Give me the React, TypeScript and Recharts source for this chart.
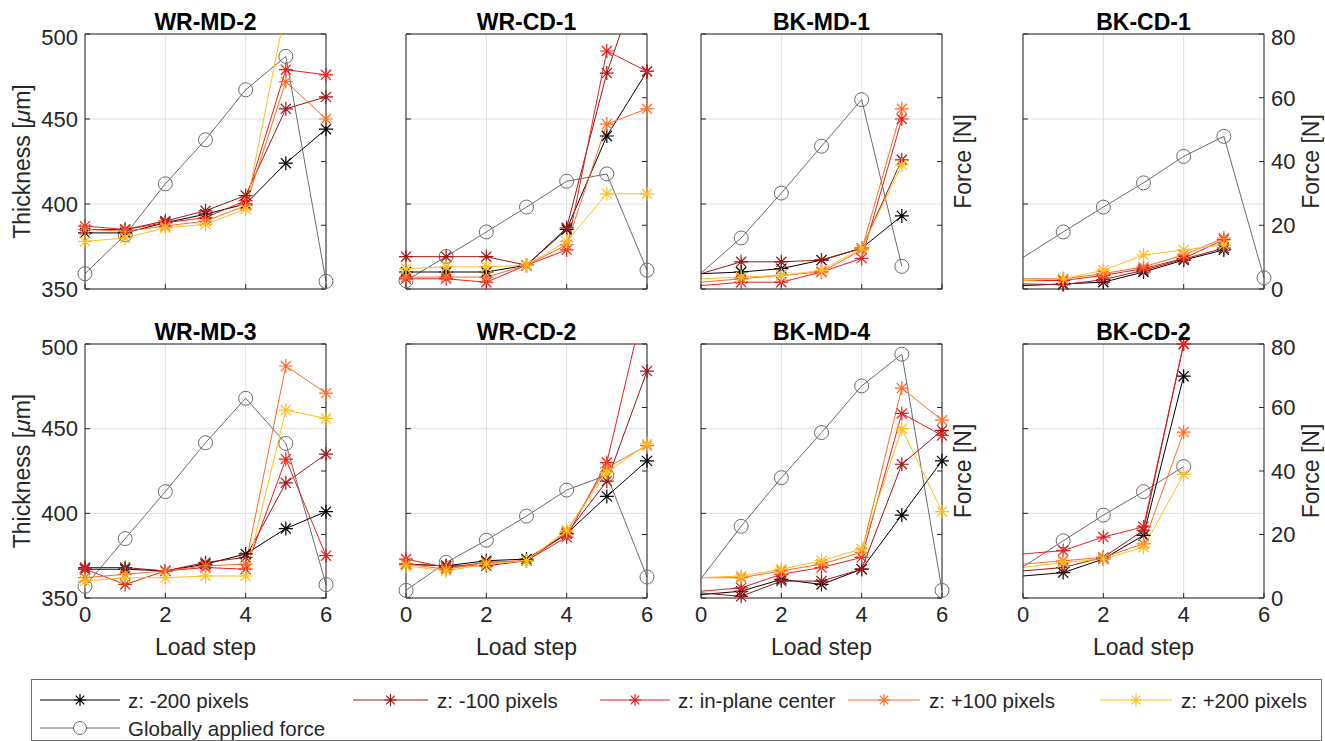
import React from 'react';
import { LineChart, Line, XAxis, YAxis, CartesianGrid, ReferenceLine } from 'recharts';

// load steps and ticks
const steps = [0, 1, 2, 3, 4, 5, 6];
const xTicks = [0, 2, 4, 6];
const thicknessTicks = [350, 400, 450, 500];
const forceTicks = [0, 20, 40, 60, 80];

// WR-MD-2
const wrMd2_m200 = [383, 383, 389, 394, 400, 424, 444];
const wrMd2_m100 = [385, 385, 390, 396, 405, 456, 463];
const wrMd2_c0 = [387, 385, 389, 392, 402, 479, 476];
const wrMd2_p100 = [385, 384, 387, 390, 399, 472, 450];
const wrMd2_p200 = [378, 380, 386, 388, 397, 515, 540];
const wrMd2_force = [4.8, 17, 33, 46.8, 62.5, 73, 2.4];

// WR-CD-1
const wrCd1_m200 = [360, 360, 360, 364, 385, 440, 478];
const wrCd1_m100 = [369, 369, 369, 364, 386, 477, 546];
const wrCd1_c0 = [356, 356, 354, 364, 373, 490, 478];
const wrCd1_p100 = [357, 357, 357, 364, 376, 447, 456];
const wrCd1_p200 = [362, 363, 363, 364, 378, 406, 406];
const wrCd1_force = [2.6, 10.2, 17.9, 25.7, 33.8, 36.1, 5.9];

// BK-MD-1
const bkMd1_m200 = [359, 360, 362, 367, 374, 393, null];
const bkMd1_m100 = [359, 366, 366, 367, 374, 426, null];
const bkMd1_c0 = [352, 354, 354, 360, 368, 450, null];
const bkMd1_p100 = [354, 356, 358, 360, 373, 456, null];
const bkMd1_p200 = [356, 357, 358, 361, 374, 423, null];
const bkMd1_force = [5, 16, 30.1, 44.8, 59.4, 7.1, null];

// BK-CD-1
const bkCd1_m200 = [352, 353, 354, 360, 367, 373, null];
const bkCd1_m100 = [353, 352.5, 355.5, 361, 367.6, 374, null];
const bkCd1_c0 = [355, 355, 358, 362, 368, 379, null];
const bkCd1_p100 = [356, 356, 359, 363, 370, 380, null];
const bkCd1_p200 = [355, 356, 361, 370, 373, 376, null];
const bkCd1_force = [9.9, 17.9, 25.7, 33.3, 41.6, 47.9, 3.5];

// WR-MD-3
const wrMd3_m200 = [367, 367, 366, 370, 376, 391, 401];
const wrMd3_m100 = [368, 368, 366, 371, 374, 418, 435];
const wrMd3_c0 = [367, 358, 366, 368, 367, 432, 375];
const wrMd3_p100 = [362, 364, 366, 369, 370, 487, 471];
const wrMd3_p200 = [360, 362, 362, 363, 363, 461, 456];
const wrMd3_force = [3.7, 18.7, 33.5, 48.9, 62.9, 48.7, 4.2];

// WR-CD-2
const wrCd2_m200 = [370, 369, 372, 373, 388, 410, 431];
const wrCd2_m100 = [370, 369, 369, 372, 388, 419, 484];
const wrCd2_c0 = [373, 368, 371, 372, 386, 430, 531];
const wrCd2_p100 = [370, 367, 371, 372, 389, 427, 440];
const wrCd2_p200 = [369, 366, 370, 372, 390, 424, 441];
const wrCd2_force = [2.4, 11.2, 18.2, 25.8, 34, 38.7, 6.6];

// BK-MD-4
const bkMd4_m200 = [352, 354, 361, 358, 367, 399, 431];
const bkMd4_m100 = [353, 351, 360, 360, 367, 429, 449];
const bkMd4_c0 = [354, 356, 364, 368, 374, 459, 446];
const bkMd4_p100 = [362, 362, 366, 370, 377, 474, 455];
const bkMd4_p200 = [362, 363, 367, 372, 379, 450, 401];
const bkMd4_force = [6.1, 22.6, 37.9, 52.1, 66.8, 76.8, 2.4];

// BK-CD-2
const bkCd2_m200 = [363, 365, 373, 387, 481, null, null];
const bkCd2_m100 = [366, 368, 374, 390, 500, null, null];
const bkCd2_c0 = [376, 378, 386, 392, 500, null, null];
const bkCd2_p100 = [370, 372, 374, 382, 448, null, null];
const bkCd2_p200 = [368, 371, 373, 380, 423, null, null];
const bkCd2_force = [9.8, 18, 26.1, 33.5, 41.4, null, null];

const SERIES = [
  { key: 'm200', name: 'z: -200 pixels', color: '#000000' },
  { key: 'm100', name: 'z: -100 pixels', color: '#9e1616' },
  { key: 'c0', name: 'z: in-plane center', color: '#ee1c1c' },
  { key: 'p100', name: 'z: +100 pixels', color: '#ff6a26' },
  { key: 'p200', name: 'z: +200 pixels', color: '#ffbe1a' },
];

// markersFrom: first load step that carries a marker (BK panels draw none at step 0)
const PANELS = [
  { title: 'WR-MD-2', row: 0, col: 0, markersFrom: 0, m200: wrMd2_m200, m100: wrMd2_m100, c0: wrMd2_c0, p100: wrMd2_p100, p200: wrMd2_p200, force: wrMd2_force },
  { title: 'WR-CD-1', row: 0, col: 1, markersFrom: 0, m200: wrCd1_m200, m100: wrCd1_m100, c0: wrCd1_c0, p100: wrCd1_p100, p200: wrCd1_p200, force: wrCd1_force },
  { title: 'BK-MD-1', row: 0, col: 2, markersFrom: 1, m200: bkMd1_m200, m100: bkMd1_m100, c0: bkMd1_c0, p100: bkMd1_p100, p200: bkMd1_p200, force: bkMd1_force },
  { title: 'BK-CD-1', row: 0, col: 3, markersFrom: 1, m200: bkCd1_m200, m100: bkCd1_m100, c0: bkCd1_c0, p100: bkCd1_p100, p200: bkCd1_p200, force: bkCd1_force },
  { title: 'WR-MD-3', row: 1, col: 0, markersFrom: 0, m200: wrMd3_m200, m100: wrMd3_m100, c0: wrMd3_c0, p100: wrMd3_p100, p200: wrMd3_p200, force: wrMd3_force },
  { title: 'WR-CD-2', row: 1, col: 1, markersFrom: 0, m200: wrCd2_m200, m100: wrCd2_m100, c0: wrCd2_c0, p100: wrCd2_p100, p200: wrCd2_p200, force: wrCd2_force },
  { title: 'BK-MD-4', row: 1, col: 2, markersFrom: 1, m200: bkMd4_m200, m100: bkMd4_m100, c0: bkMd4_c0, p100: bkMd4_p100, p200: bkMd4_p200, force: bkMd4_force },
  { title: 'BK-CD-2', row: 1, col: 3, markersFrom: 1, m200: bkCd2_m200, m100: bkCd2_m100, c0: bkCd2_c0, p100: bkCd2_p100, p200: bkCd2_p200, force: bkCd2_force },
];

const FONT = '"Liberation Sans", Arial, Helvetica, sans-serif';
const TEXT = '#262626';
const FRAME = '#262626';
const GRID = '#dedede';
const FORCE_GRAY = '#6b6b6b';

// layout
const COL_X = [85, 406, 701, 1023];
const ROW_Y = [34, 344];
const ROW_H = [255, 254];
const PLOT_W = 241;
const LEFT_W = 80;
const RIGHT_W = 60;
const TOP_M = 10;
const X_H = 62;

function Star(props: { cx: number; cy: number; color: string; s?: number }) {
  const { cx, cy, color } = props;
  const s = props.s ?? 7;
  const d = s * 0.72;
  const path = `M${cx - s},${cy}L${cx + s},${cy}M${cx},${cy - s}L${cx},${cy + s}` +
    `M${cx - d},${cy - d}L${cx + d},${cy + d}M${cx - d},${cy + d}L${cx + d},${cy - d}`;
  return <path d={path} stroke={color} strokeWidth={1.2} fill="none" />;
}

const makeStarDot = (color: string, from: number) => (props: any) => {
  const { cx, cy, value, index } = props;
  if (cx == null || cy == null || value == null || value > 500 || index < from) return <g key={`s-${index}`} />;
  return <g key={`s-${index}`}><Star cx={cx} cy={cy} color={color} /></g>;
};

const makeCircleDot = (from: number) => (props: any) => {
  const { cx, cy, value, index } = props;
  if (cx == null || cy == null || value == null || index < from) return <g key={`c-${index}`} />;
  return <circle key={`c-${index}`} cx={cx} cy={cy} r={7} stroke={FORCE_GRAY} strokeWidth={1} fill="none" />;
};

function Panel({ panel }: { panel: any }) {
  const plotH = ROW_H[panel.row];
  const bottomRow = panel.row === 1;
  const rows = steps.map((s, i) => ({
    step: s,
    m200: panel.m200[i],
    m100: panel.m100[i],
    c0: panel.c0[i],
    p100: panel.p100[i],
    p200: panel.p200[i],
    force: panel.force[i],
  }));
  const tickStyle = { fill: TEXT, fontSize: 22, fontFamily: FONT };
  const empty = () => '';

  const thicknessLabel = () => {
    const x = LEFT_W - 63;
    const y = TOP_M + plotH / 2;
    return (
      <text x={x} y={y} transform={`rotate(-90 ${x} ${y})`} textAnchor="middle" dominantBaseline="central"
        fill={TEXT} fontSize={23} fontFamily={FONT}>
        Thickness [<tspan fontStyle="italic">μ</tspan>m]
      </text>
    );
  };
  const forceLabel = () => {
    const x = LEFT_W + PLOT_W + (panel.col === 3 ? 47 : 21);
    const y = TOP_M + plotH / 2;
    return (
      <text x={x} y={y} transform={`rotate(-90 ${x} ${y})`} textAnchor="middle" dominantBaseline="central"
        fill={TEXT} fontSize={23} fontFamily={FONT}>
        Force [N]
      </text>
    );
  };
  const stepLabel = () => (
    <text x={LEFT_W + PLOT_W / 2} y={TOP_M + plotH + 49} textAnchor="middle" dominantBaseline="central"
      fill={TEXT} fontSize={23} fontFamily={FONT}>
      Load step
    </text>
  );

  return (
    <div style={{ position: 'absolute', left: COL_X[panel.col] - LEFT_W, top: ROW_Y[panel.row] - TOP_M }}>
      <LineChart
        width={LEFT_W + PLOT_W + RIGHT_W}
        height={TOP_M + plotH + X_H}
        data={rows}
        margin={{ top: TOP_M, right: 0, bottom: 0, left: 0 }}
      >
        <CartesianGrid yAxisId="left" stroke={GRID} strokeWidth={1} />
        <XAxis
          dataKey="step"
          type="number"
          domain={[0, 6]}
          ticks={xTicks}
          height={X_H}
          stroke={FRAME}
          tickSize={-5}
          tickMargin={13}
          tick={tickStyle}
          tickFormatter={bottomRow ? undefined : empty}
          label={bottomRow ? stepLabel : undefined}
        />
        <YAxis
          yAxisId="left"
          orientation="left"
          width={LEFT_W}
          domain={[350, 500]}
          ticks={thicknessTicks}
          allowDataOverflow
          stroke={FRAME}
          tickSize={-5}
          tickMargin={12}
          tick={tickStyle}
          tickFormatter={panel.col === 0 ? undefined : empty}
          label={panel.col === 0 ? thicknessLabel : undefined}
        />
        <YAxis
          yAxisId="right"
          orientation="right"
          width={RIGHT_W}
          domain={[0, 80]}
          ticks={forceTicks}
          allowDataOverflow
          stroke={FRAME}
          tickSize={-5}
          tickMargin={12}
          tick={tickStyle}
          tickFormatter={panel.col === 3 ? undefined : empty}
          label={panel.col >= 2 ? forceLabel : undefined}
        />
        <ReferenceLine yAxisId="left" y={500} stroke={FRAME} strokeWidth={1} />
        <Line
          yAxisId="right"
          dataKey="force"
          type="linear"
          stroke={FORCE_GRAY}
          strokeWidth={1}
          dot={makeCircleDot(panel.markersFrom)}
          activeDot={false}
          isAnimationActive={false}
        />
        {SERIES.map((s) => (
          <Line
            key={s.key}
            yAxisId="left"
            dataKey={s.key}
            type="linear"
            stroke={s.color}
            strokeWidth={1}
            dot={makeStarDot(s.color, panel.markersFrom)}
            activeDot={false}
            isAnimationActive={false}
          />
        ))}
      </LineChart>
    </div>
  );
}

function Title({ panel }: { panel: any }) {
  return (
    <div
      style={{
        position: 'absolute',
        left: COL_X[panel.col],
        width: PLOT_W,
        top: panel.row === 0 ? 9 : 319,
        lineHeight: '26px',
        textAlign: 'center',
        fontFamily: FONT,
        fontWeight: 'bold',
        fontSize: 23,
        color: '#000',
      }}
    >
      {panel.title}
    </div>
  );
}

const LEGEND_ROW1 = [
  { x1: 40, x2: 120, tx: 128 },
  { x1: 353, x2: 428, tx: 437 },
  { x1: 600, x2: 670, tx: 678 },
  { x1: 848, x2: 920, tx: 929 },
  { x1: 1100, x2: 1172, tx: 1181 },
];

function LegendBox() {
  return (
    <svg width={1325} height={62} style={{ position: 'absolute', left: 0, top: 679 }}>
      <rect x={31.5} y={0.5} width={1290} height={61} fill="#fff" stroke="#6e6e6e" strokeWidth={1} />
      {SERIES.map((s, i) => {
        const p = LEGEND_ROW1[i];
        const y = 21;
        return (
          <g key={s.key}>
            <line x1={p.x1} x2={p.x2} y1={y} y2={y} stroke={s.color} strokeWidth={1} />
            <Star cx={(p.x1 + p.x2) / 2} cy={y} color={s.color} s={6} />
            <text x={p.tx} y={y} dominantBaseline="central" fill={TEXT} fontSize={20.5} fontFamily={FONT}>{s.name}</text>
          </g>
        );
      })}
      <g>
        <line x1={40} x2={120} y1={49} y2={49} stroke={FORCE_GRAY} strokeWidth={1} />
        <circle cx={80} cy={49} r={6.5} stroke={FORCE_GRAY} strokeWidth={1} fill="#fff" />
        <text x={128} y={49} dominantBaseline="central" fill={TEXT} fontSize={20.5} fontFamily={FONT}>Globally applied force</text>
      </g>
    </svg>
  );
}

export default function App() {
  return (
    <div style={{ position: 'absolute', left: 0, top: 0, width: 1325, height: 741, overflow: 'hidden', background: '#fff' }}>
      <style>{'.recharts-line-dots { clip-path: none; }'}</style>
      {PANELS.map((p) => (
        <Panel key={p.title} panel={p} />
      ))}
      {PANELS.map((p) => (
        <Title key={`t-${p.title}`} panel={p} />
      ))}
      <LegendBox />
    </div>
  );
}
